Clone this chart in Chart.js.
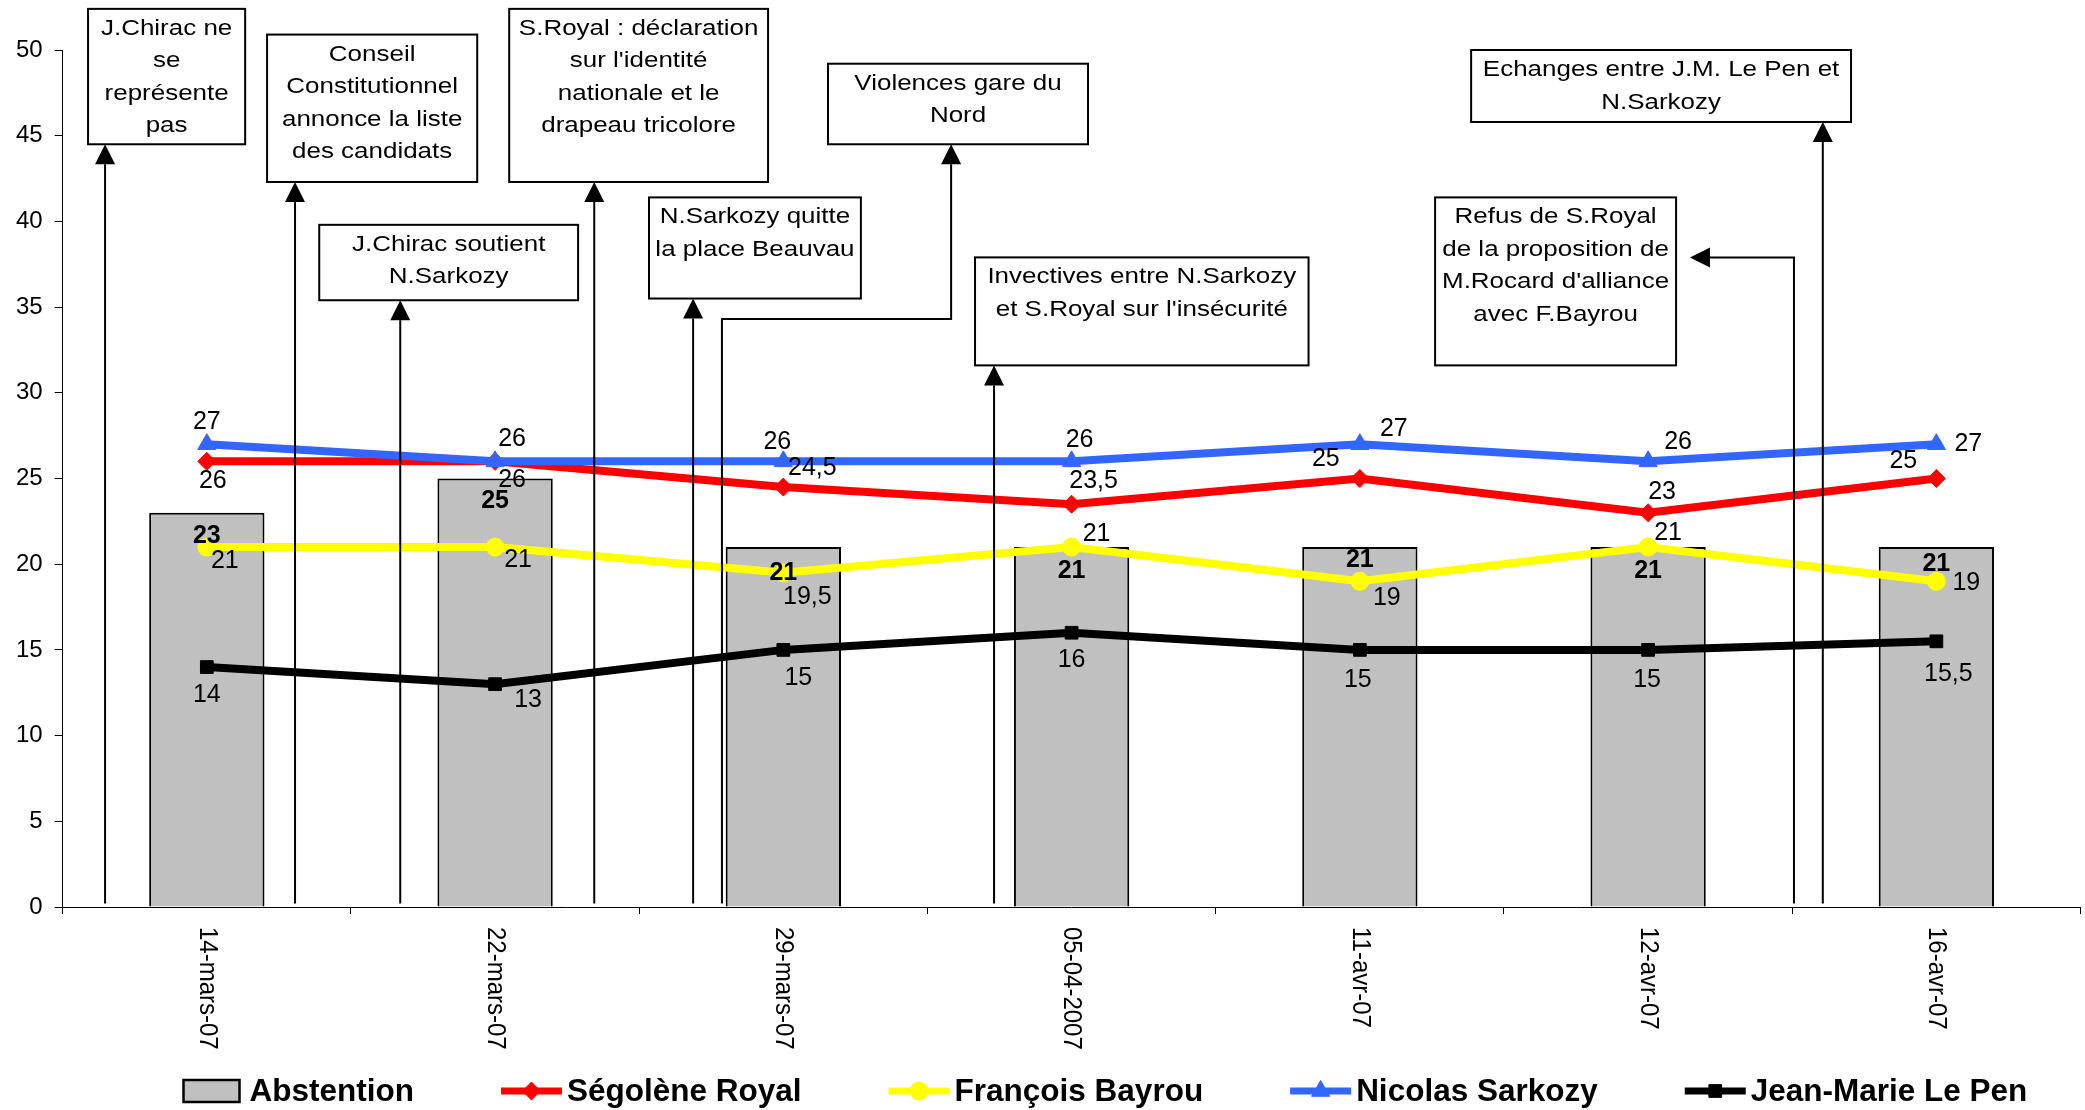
<!DOCTYPE html>
<html>
<head>
<meta charset="utf-8">
<script src="https://cdn.jsdelivr.net/npm/chart.js@4/dist/chart.umd.min.js"></script>
<style>
html, body { margin: 0; padding: 0; background: #fff; overflow: hidden; }
#wrap { width: 2092px; height: 1110px; position: relative; }
</style>
</head>
<body>
<div id="wrap"><canvas id="chart"></canvas></div>
<script>
const dates = ['14-mars-07', '22-mars-07', '29-mars-07', '05-04-2007', '11-avr-07', '12-avr-07', '16-avr-07'];
const abstention = [23, 25, 21, 21, 21, 21, 21];
const royal = [26, 26, 24.5, 23.5, 25, 23, 25];
const bayrou = [21, 21, 19.5, 21, 19, 21, 19];
const sarkozy = [27, 26, 26, 26, 27, 26, 27];
const lepen = [14, 13, 15, 16, 15, 15, 15.5];
const yTicks = [0, 5, 10, 15, 20, 25, 30, 35, 40, 45, 50];

// label offsets in px from each point (dx, dy)
const barLabelDy = [23, 23, 26, 24, 13, 24, 17];
const labelOffsets = {
    'Ségolène Royal': [[6, 20], [17, 19], [29, -19], [22, -23], [-34, -19], [14, -21], [-33, -17]],
    'François Bayrou': [[18, 14], [23, 13], [24, 24], [25, -13], [27, 17], [20, -14], [30, 2]],
    'Nicolas Sarkozy': [[0, -22], [17, -22], [-6, -19], [8, -21], [34, -15], [30, -19], [32, 0]],
    'Jean-Marie Le Pen': [[0, 28], [33, 16], [15, 28], [0, 27], [-2, 30], [-1, 30], [12, 33]]
};

// event boxes: box = [x from, x to (category units), y top, y bottom (value units)], arrow path ends at the box
const events = [
    { lines: ['J.Chirac ne', 'se', 'représente', 'pas'], box: [-0.412, 0.133, 52.4, 44.5], arrow: [[-0.353, 0.2], [-0.353, 44.5]] },
    { lines: ['Conseil', 'Constitutionnel', 'annonce la liste', 'des candidats'], box: [0.209, 0.938, 50.9, 42.3], arrow: [[0.306, 0.2], [0.306, 42.3]] },
    { lines: ['S.Royal : déclaration', "sur l'identité", 'nationale et le', 'drapeau tricolore'], box: [1.049, 1.947, 52.4, 42.3], arrow: [[1.344, 0.2], [1.344, 42.3]] },
    { lines: ['J.Chirac soutient', 'N.Sarkozy'], box: [0.390, 1.288, 39.8, 35.4], arrow: [[0.671, 0.2], [0.671, 35.4]] },
    { lines: ['N.Sarkozy quitte', 'la place Beauvau'], box: [1.534, 2.269, 41.4, 35.5], arrow: [[1.687, 0.2], [1.687, 35.5]] },
    { lines: ['Violences gare du', 'Nord'], box: [2.155, 3.057, 49.2, 44.5], arrow: [[1.787, 0.2], [1.787, 34.3], [2.582, 34.3], [2.582, 44.5]] },
    { lines: ['Invectives entre N.Sarkozy', "et S.Royal sur l'insécurité"], box: [2.665, 3.822, 37.9, 31.6], arrow: [[2.731, 0.2], [2.731, 31.6]] },
    { lines: ['Echanges entre J.M. Le Pen et', 'N.Sarkozy'], box: [4.386, 5.704, 50.0, 45.8], arrow: [[5.606, 0.2], [5.606, 45.8]] },
    { lines: ['Refus de S.Royal', 'de la proposition de', "M.Rocard d'alliance", 'avec F.Bayrou'], box: [4.261, 5.097, 41.4, 31.6], arrow: [[5.506, 0.2], [5.506, 37.9], [5.145, 37.9]] }
];

const FONT = '"Liberation Sans", Arial, Helvetica, sans-serif';
const fmt = v => String(v).replace('.', ',');

function drawText(ctx, str, x, y, font, sx, rot) {
    ctx.save();
    ctx.translate(x, y);
    ctx.scale(sx, 1);
    if (rot) ctx.rotate(rot);
    ctx.font = font;
    ctx.fillText(str, 0, 0);
    ctx.restore();
}

function drawArrow(ctx, pts) {
    const n = pts.length;
    const [ex, ey] = pts[n - 1];
    const [px, py] = pts[n - 2];
    const len = Math.hypot(ex - px, ey - py);
    const ux = (ex - px) / len, uy = (ey - py) / len;
    const head = 20, half = 10;
    ctx.beginPath();
    ctx.moveTo(pts[0][0], pts[0][1]);
    for (let i = 1; i < n - 1; i++) ctx.lineTo(pts[i][0], pts[i][1]);
    ctx.lineTo(ex - ux * head, ey - uy * head);
    ctx.stroke();
    ctx.beginPath();
    ctx.moveTo(ex, ey);
    ctx.lineTo(ex - ux * head - uy * half, ey - uy * head + ux * half);
    ctx.lineTo(ex - ux * head + uy * half, ey - uy * head - ux * half);
    ctx.closePath();
    ctx.fill();
}

const extras = {
    id: 'extras',
    afterDatasetsDraw(chart) {
        const ctx = chart.ctx;
        const xs = chart.scales.x, ys = chart.scales.y;

        // events: arrows and boxes
        ctx.save();
        ctx.strokeStyle = '#000';
        ctx.fillStyle = '#000';
        ctx.lineWidth = 2;
        events.forEach(ev => {
            const pts = ev.arrow.map(p => [xs.getPixelForValue(p[0]), ys.getPixelForValue(p[1])]);
            drawArrow(ctx, pts);
            const x0 = xs.getPixelForValue(ev.box[0]), x1 = xs.getPixelForValue(ev.box[1]);
            const y0 = ys.getPixelForValue(ev.box[2]), y1 = ys.getPixelForValue(ev.box[3]);
            ctx.fillStyle = '#fff';
            ctx.fillRect(x0, y0, x1 - x0, y1 - y0);
            ctx.strokeRect(x0, y0, x1 - x0, y1 - y0);
            ctx.fillStyle = '#000';
            ctx.textAlign = 'center';
            ctx.textBaseline = 'alphabetic';
            ev.lines.forEach((l, i) => {
                drawText(ctx, l, (x0 + x1) / 2, y0 + 26 + 32.5 * i, '22px ' + FONT, 1.18);
            });
        });
        ctx.restore();

        // value labels
        ctx.save();
        ctx.fillStyle = '#000';
        ctx.textAlign = 'center';
        ctx.textBaseline = 'middle';
        chart.data.datasets.forEach((ds, di) => {
            const meta = chart.getDatasetMeta(di);
            meta.data.forEach((el, i) => {
                if (ds.type === 'bar') {
                    drawText(ctx, fmt(ds.data[i]), el.x, el.y + barLabelDy[i], 'bold 25px ' + FONT, 1);
                } else {
                    const off = labelOffsets[ds.label][i];
                    drawText(ctx, fmt(ds.data[i]), el.x + off[0], el.y + off[1], '25px ' + FONT, 1);
                }
            });
        });
        ctx.restore();
    },
    afterDraw(chart) {
        const ctx = chart.ctx;
        const xs = chart.scales.x;

        // vertical date labels, reading downwards
        ctx.save();
        ctx.fillStyle = '#000';
        ctx.textAlign = 'left';
        ctx.textBaseline = 'middle';
        dates.forEach((d, i) => {
            drawText(ctx, d, xs.getPixelForValue(i), xs.bottom + 13, '24px ' + FONT, 1.1, Math.PI / 2);
        });
        ctx.restore();

        // legend
        ctx.save();
        const ly = 1091;
        let lx = 183.5;
        ctx.textBaseline = 'middle';
        ctx.textAlign = 'left';
        chart.data.datasets.forEach(ds => {
            if (ds.type === 'bar') {
                ctx.fillStyle = ds.backgroundColor;
                ctx.fillRect(lx, ly - 11, 56, 22);
                ctx.strokeStyle = '#000';
                ctx.lineWidth = 2.5;
                ctx.strokeRect(lx, ly - 11, 56, 22);
            } else {
                ctx.strokeStyle = ds.borderColor;
                ctx.lineWidth = 7;
                ctx.beginPath();
                ctx.moveTo(lx, ly);
                ctx.lineTo(lx + 61, ly);
                ctx.stroke();
                ctx.fillStyle = ds.borderColor;
                ctx.lineWidth = 1;
                Chart.helpers.drawPoint(ctx, { pointStyle: ds.pointStyle, radius: ds.pointRadius, borderWidth: 1, rotation: 0 }, lx + 30.5, ly);
            }
            ctx.fillStyle = '#000';
            ctx.font = 'bold 31.5px ' + FONT;
            ctx.fillText(ds.label, lx + 66, ly + 1);
            lx += 66 + ctx.measureText(ds.label).width + 87;
        });
        ctx.restore();
    }
};

function lineSet(label, data, color, style, radius, order) {
    return {
        type: 'line',
        label: label,
        data: data,
        borderColor: color,
        backgroundColor: color,
        borderWidth: 8,
        pointStyle: style,
        pointRadius: radius,
        pointBackgroundColor: color,
        pointBorderColor: color,
        pointBorderWidth: 1,
        tension: 0,
        fill: false,
        order: order
    };
}

new Chart(document.getElementById('chart'), {
    type: 'bar',
    data: {
        labels: dates,
        datasets: [
            {
                type: 'bar',
                label: 'Abstention',
                data: abstention,
                backgroundColor: '#C0C0C0',
                borderColor: '#000',
                borderWidth: 2,
                barPercentage: 0.4,
                categoryPercentage: 1.0,
                order: 10
            },
            lineSet('Ségolène Royal', royal, '#FF0000', 'rectRot', 9, 3),
            lineSet('François Bayrou', bayrou, '#FFFF00', 'circle', 9, 4),
            lineSet('Nicolas Sarkozy', sarkozy, '#3366FF', 'triangle', 10.5, 2),
            lineSet('Jean-Marie Le Pen', lepen, '#000000', 'rect', 9, 1)
        ]
    },
    options: {
        responsive: true,
        maintainAspectRatio: false,
        animation: false,
        layout: { padding: { left: 4, top: 50, right: 0, bottom: 196 } },
        scales: {
            x: {
                offset: true,
                grid: { display: true, offset: true, drawOnChartArea: false, drawTicks: true, tickLength: 7, color: '#000' },
                border: { display: true, color: '#000', width: 1 },
                ticks: { display: false }
            },
            y: {
                min: 0,
                max: 50,
                afterBuildTicks: axis => { axis.ticks = yTicks.map(v => ({ value: v })); },
                grid: { display: true, drawOnChartArea: false, drawTicks: true, tickLength: 8, color: '#000' },
                border: { display: true, color: '#000', width: 1 },
                ticks: { color: '#000', padding: 12, font: { family: FONT, size: 24 } }
            }
        },
        plugins: {
            legend: { display: false },
            tooltip: { enabled: false }
        }
    },
    plugins: [extras]
});
</script>
</body>
</html>
